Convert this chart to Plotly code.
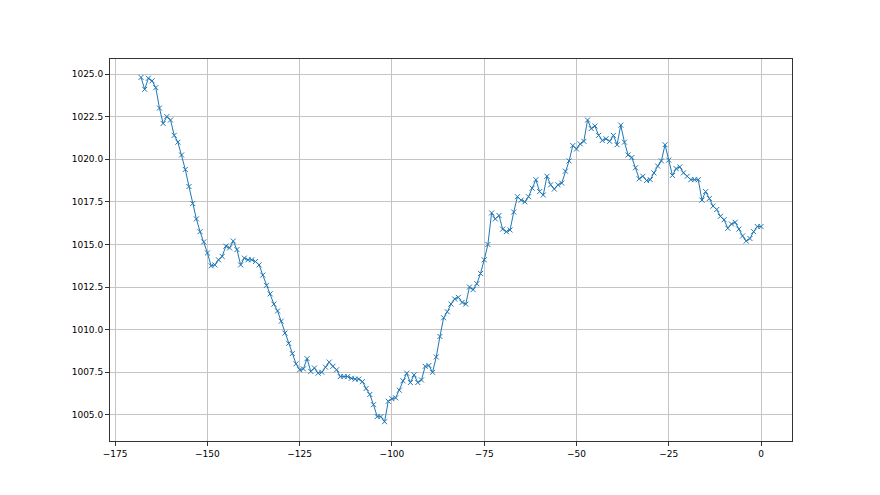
import plotly.graph_objects as go

hours = list(range(-168, 1))
pressure = [
    1024.8, 1024.1, 1024.75, 1024.6, 1024.2, 1023.0, 1022.1, 1022.5, 1022.3, 1021.4,   # -168..-159
    1021.0, 1020.25, 1019.4, 1018.4, 1017.4, 1016.5, 1015.75, 1015.15, 1014.5, 1013.75,  # -158..-149
    1013.8, 1014.1, 1014.3, 1014.9, 1014.8, 1015.2, 1014.7, 1013.8, 1014.2, 1014.1,    # -148..-139
    1014.1, 1014.0, 1013.8, 1013.2, 1012.6, 1012.1, 1011.5, 1011.1, 1010.5, 1009.8,    # -138..-129
    1009.2, 1008.6, 1008.0, 1007.65, 1007.7, 1008.3, 1007.55, 1007.75, 1007.45, 1007.5,  # -128..-119
    1007.8, 1008.1, 1007.85, 1007.65, 1007.25, 1007.25, 1007.25, 1007.15, 1007.1, 1007.1,  # -118..-109
    1006.95, 1006.55, 1006.2, 1005.6, 1004.9, 1004.9, 1004.6, 1005.8, 1005.95, 1006.0,  # -108..-99
    1006.45, 1007.0, 1007.45, 1006.9, 1007.35, 1006.9, 1007.05, 1007.85, 1007.9, 1007.5,  # -98..-89
    1008.4, 1009.6, 1010.7, 1011.05, 1011.5, 1011.8, 1011.9, 1011.6, 1011.5, 1012.5,   # -88..-79
    1012.35, 1012.7, 1013.3, 1014.1, 1015.0, 1016.85, 1016.5, 1016.7, 1015.9, 1015.75,  # -78..-69
    1015.85, 1016.9, 1017.8, 1017.6, 1017.5, 1017.8, 1018.3, 1018.8, 1018.1, 1017.9,   # -68..-59
    1019.0, 1018.5, 1018.25, 1018.5, 1018.6, 1019.3, 1019.9, 1020.8, 1020.6, 1020.9,   # -58..-49
    1021.05, 1022.3, 1021.8, 1021.95, 1021.4, 1021.1, 1021.2, 1021.05, 1021.4, 1020.85,  # -48..-39
    1022.0, 1021.0, 1020.25, 1020.1, 1019.5, 1018.85, 1019.0, 1018.75, 1018.8, 1019.2,  # -38..-29
    1019.6, 1019.9, 1020.85, 1019.95, 1019.05, 1019.45, 1019.55, 1019.2, 1019.0, 1018.8,  # -28..-19
    1018.8, 1018.8, 1017.6, 1018.1, 1017.7, 1017.25, 1017.05, 1016.65, 1016.45, 1015.95,  # -18..-9
    1016.2, 1016.3, 1015.9, 1015.5, 1015.2, 1015.35, 1015.75, 1016.05, 1016.05,        # -8..0
]

x_ticks = [-175, -150, -125, -100, -75, -50, -25, 0]
y_ticks = [1005.0, 1007.5, 1010.0, 1012.5, 1015.0, 1017.5, 1020.0, 1022.5, 1025.0]

fig = go.Figure()
fig.add_trace(go.Scatter(
    x=hours, y=pressure, mode="lines+markers",
    line=dict(color="#1f77b4", width=1),
    marker=dict(symbol="x-thin", size=5, line=dict(color="#1f77b4", width=1)),
    showlegend=False,
))

axis_common = dict(
    showgrid=True, gridcolor="#c4c4c4", gridwidth=0.8,
    showline=True, linecolor="#333333", linewidth=1, mirror=True,
    ticks="outside", ticklen=4, tickcolor="#333333", tickwidth=1,
    tickfont=dict(family="DejaVu Sans", size=9, color="black"),
    zeroline=False,
)
fig.update_xaxes(range=[-176.4, 8.4], tickvals=x_ticks, **axis_common)
fig.update_yaxes(range=[1003.47, 1025.88], tickvals=y_ticks, tickformat=".1f", **axis_common)

fig.update_layout(
    width=880, height=495,
    margin=dict(l=102, r=96, t=51, b=62),
    paper_bgcolor="white", plot_bgcolor="white",
)
fig.write_html("out.html")
